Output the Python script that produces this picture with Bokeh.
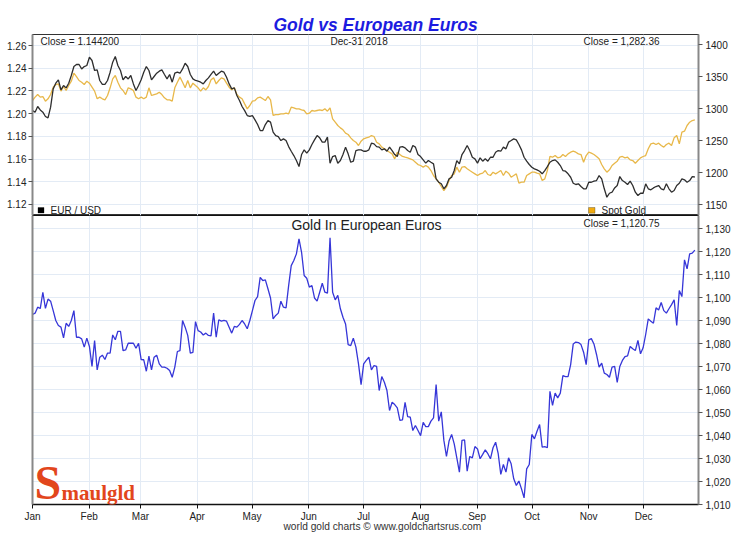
import pandas as pd
from datetime import datetime
from bokeh.plotting import figure
from bokeh.models import (ColumnDataSource, Range1d, LinearAxis, Label, BoxAnnotation, Title,
                          MonthsTicker, SingleIntervalTicker, FixedTicker, PrintfTickFormatter,
                          NumeralTickFormatter, DatetimeTickFormatter)
from bokeh.layouts import column
from bokeh.embed import file_html
from bokeh.resources import INLINE

# ---------------- data ----------------
eur_usd = [
    1.2027, 1.2013, 1.2063, 1.2033, 1.2013, 1.1975, 1.1963, 1.2057, 1.2218, 1.2268,
    1.2298, 1.2210, 1.2248, 1.2227, 1.2268, 1.2336, 1.2415, 1.2433, 1.2433, 1.2394,
    1.2415, 1.2424, 1.2497, 1.2468, 1.2380, 1.2386, 1.2292, 1.2257, 1.2257, 1.2292,
    1.2365, 1.2453, 1.2503, 1.2424, 1.2380, 1.2298, 1.2327, 1.2306, 1.2336, 1.2262,
    1.2204, 1.2248, 1.2298, 1.2365, 1.2415, 1.2380, 1.2298, 1.2327, 1.2356, 1.2374,
    1.2386, 1.2345, 1.2306, 1.2345, 1.2277, 1.2356, 1.2365, 1.2356, 1.2394, 1.2444,
    1.2415, 1.2345, 1.2306, 1.2292, 1.2286, 1.2277, 1.2262, 1.2292, 1.2315, 1.2345,
    1.2374, 1.2336, 1.2356, 1.2374, 1.2365, 1.2321, 1.2262, 1.2218, 1.2227, 1.2160,
    1.2116, 1.2063, 1.2027, 1.1983, 1.1975, 1.1983, 1.1945, 1.1904, 1.1851, 1.1851,
    1.1904, 1.1939, 1.1925, 1.1837, 1.1807, 1.1798, 1.1763, 1.1778, 1.1763, 1.1710,
    1.1669, 1.1631, 1.1587, 1.1534, 1.1640, 1.1681, 1.1652, 1.1681, 1.1728, 1.1769,
    1.1807, 1.1787, 1.1749, 1.1749, 1.1793, 1.1563, 1.1622, 1.1631, 1.1563, 1.1587,
    1.1640, 1.1705, 1.1646, 1.1572, 1.1581, 1.1675, 1.1681, 1.1681, 1.1669, 1.1669,
    1.1681, 1.1740, 1.1734, 1.1710, 1.1705, 1.1681, 1.1690, 1.1669, 1.1705, 1.1675,
    1.1640, 1.1622, 1.1705, 1.1710, 1.1699, 1.1675, 1.1660, 1.1719, 1.1705, 1.1640,
    1.1622, 1.1593, 1.1564, 1.1587, 1.1572, 1.1558, 1.1426, 1.1396, 1.1382, 1.1338,
    1.1367, 1.1426, 1.1440, 1.1499, 1.1587, 1.1558, 1.1640, 1.1675, 1.1719, 1.1675,
    1.1616, 1.1602, 1.1564, 1.1611, 1.1581, 1.1602, 1.1581, 1.1616, 1.1616, 1.1660,
    1.1675, 1.1669, 1.1705, 1.1690, 1.1749, 1.1763, 1.1778, 1.1769, 1.1728, 1.1681,
    1.1616, 1.1581, 1.1552, 1.1528, 1.1514, 1.1505, 1.1493, 1.1470, 1.1499, 1.1534,
    1.1572, 1.1587, 1.1593, 1.1572, 1.1543, 1.1499, 1.1493, 1.1470, 1.1440, 1.1387,
    1.1376, 1.1382, 1.1358, 1.1338, 1.1338, 1.1396, 1.1396, 1.1405, 1.1411, 1.1455,
    1.1426, 1.1338, 1.1264, 1.1299, 1.1308, 1.1346, 1.1367, 1.1446, 1.1411, 1.1396,
    1.1376, 1.1405, 1.1367, 1.1308, 1.1279, 1.1299, 1.1299, 1.1382, 1.1338, 1.1329,
    1.1346, 1.1358, 1.1367, 1.1338, 1.1329, 1.1382, 1.1338, 1.1308, 1.1323, 1.1367,
    1.1387, 1.1426, 1.1417, 1.1396, 1.1411, 1.1446, 1.1442,
]

spot_gold = [
    1312.8, 1318.1, 1322.2, 1318.1, 1319.1, 1311.8, 1315.5, 1322.2, 1333.7, 1337.9,
    1338.9, 1327.5, 1334.8, 1328.5, 1336.3, 1343.1, 1355.6, 1350.4, 1344.2, 1341.5,
    1337.9, 1343.1, 1340.0, 1333.7, 1327.5, 1315.5, 1318.1, 1315.5, 1313.9, 1320.7,
    1332.7, 1346.8, 1352.0, 1341.5, 1332.7, 1328.5, 1322.2, 1332.7, 1331.1, 1328.5,
    1318.1, 1315.5, 1318.1, 1315.5, 1318.1, 1332.7, 1320.7, 1322.2, 1323.3, 1325.9,
    1322.2, 1317.0, 1313.9, 1313.9, 1311.8, 1332.7, 1341.5, 1349.4, 1341.5, 1332.7,
    1344.2, 1332.7, 1340.0, 1336.3, 1332.7, 1327.5, 1332.7, 1329.5, 1334.8, 1345.2,
    1348.3, 1338.9, 1344.2, 1348.3, 1346.8, 1340.0, 1333.7, 1329.5, 1332.7, 1322.2,
    1318.1, 1315.5, 1307.6, 1299.8, 1305.0, 1311.8, 1312.8, 1317.0, 1318.1, 1315.5,
    1312.8, 1319.1, 1313.9, 1289.4, 1290.9, 1290.9, 1292.0, 1292.0, 1293.0, 1292.0,
    1302.4, 1301.4, 1299.8, 1299.8, 1298.2, 1297.2, 1292.0, 1293.0, 1297.2, 1296.1,
    1297.2, 1298.2, 1297.2, 1299.8, 1296.1, 1301.4, 1284.1, 1278.9, 1273.7, 1270.0,
    1266.9, 1261.7, 1259.6, 1254.4, 1250.2, 1247.6, 1242.4, 1249.2, 1252.8, 1254.4,
    1255.4, 1258.0, 1256.5, 1247.6, 1245.0, 1239.8, 1237.2, 1234.6, 1231.9, 1229.3,
    1221.5, 1231.9, 1228.3, 1225.2, 1224.1, 1223.1, 1221.5, 1219.9, 1216.3, 1212.6,
    1211.1, 1208.5, 1211.1, 1208.5, 1203.2, 1195.4, 1190.2, 1185.0, 1178.2, 1171.9,
    1177.1, 1187.6, 1195.4, 1198.0, 1208.5, 1200.6, 1208.5, 1209.5, 1205.9, 1203.2,
    1200.6, 1198.0, 1195.4, 1198.0, 1199.1, 1203.2, 1197.0, 1195.4, 1200.6, 1198.0,
    1200.6, 1203.2, 1195.4, 1202.2, 1199.1, 1192.8, 1195.4, 1198.0, 1183.4, 1185.0,
    1185.0, 1195.4, 1198.0, 1200.6, 1200.6, 1199.1, 1198.0, 1187.6, 1190.2, 1203.2,
    1225.2, 1224.1, 1226.7, 1223.1, 1224.1, 1228.3, 1225.2, 1229.3, 1231.9, 1233.5,
    1231.9, 1229.3, 1228.3, 1216.3, 1226.7, 1231.9, 1230.4, 1228.3, 1225.2, 1221.5,
    1212.6, 1205.9, 1200.6, 1204.3, 1211.1, 1214.7, 1217.9, 1224.1, 1225.2, 1223.1,
    1224.1, 1219.9, 1218.9, 1214.7, 1218.9, 1223.1, 1225.2, 1226.7, 1237.2, 1245.0,
    1246.0, 1244.0, 1246.0, 1242.4, 1239.8, 1244.0, 1246.0, 1242.4, 1254.4, 1258.0,
    1245.0, 1263.3, 1264.8, 1273.7, 1278.9, 1281.5, 1282.36,
]

gold_in_euros = [
    1092.7, 1093.3, 1095.9, 1095.3, 1102.4, 1095.4, 1099.4, 1098.5, 1094.4, 1090.1,
    1087.9, 1087.2, 1082.5, 1088.9, 1087.5, 1090.1, 1094.4, 1082.8, 1082.8, 1082.1,
    1078.5, 1082.4, 1078.8, 1070.1, 1081.4, 1068.6, 1074.1, 1075.0, 1073.1, 1075.9,
    1075.9, 1083.8, 1081.7, 1085.4, 1085.4, 1077.0, 1077.3, 1080.2, 1080.2, 1080.2,
    1078.0, 1080.2, 1073.1, 1073.0, 1068.0, 1074.6, 1068.6, 1074.1, 1075.0, 1071.2,
    1069.8, 1069.8, 1069.3, 1068.3, 1065.4, 1069.8, 1076.6, 1077.0, 1090.1, 1087.2,
    1083.6, 1075.9, 1076.2, 1089.6, 1085.7, 1085.1, 1083.8, 1084.6, 1083.6, 1083.4,
    1093.3, 1082.8, 1090.4, 1089.8, 1090.1, 1089.8, 1087.2, 1084.6, 1087.5, 1087.2,
    1088.4, 1090.1, 1088.6, 1086.5, 1090.1, 1094.4, 1098.8, 1100.5, 1108.9, 1107.5,
    1107.8, 1103.9, 1099.9, 1090.8, 1092.3, 1093.3, 1098.5, 1095.9, 1095.6, 1105.3,
    1114.0, 1116.2, 1119.1, 1125.6, 1119.8, 1109.7, 1108.5, 1104.6, 1105.3, 1099.9,
    1098.5, 1102.4, 1106.3, 1102.4, 1102.0, 1126.1, 1102.4, 1099.1, 1101.0, 1095.2,
    1091.5, 1088.6, 1079.6, 1079.2, 1082.4, 1078.5, 1071.2, 1062.2, 1071.2, 1072.7,
    1074.1, 1068.6, 1070.5, 1070.1, 1059.6, 1065.7, 1063.2, 1059.6, 1050.9, 1054.5,
    1053.5, 1052.1, 1046.6, 1046.8, 1054.5, 1048.3, 1048.0, 1042.2, 1044.4, 1042.2,
    1040.0, 1045.8, 1043.9, 1043.9, 1046.3, 1047.7, 1062.2, 1046.3, 1050.3, 1037.9,
    1030.9, 1037.6, 1040.5, 1036.4, 1030.3, 1024.1, 1037.9, 1038.1, 1024.5, 1030.9,
    1030.3, 1035.2, 1034.2, 1029.9, 1031.8, 1033.8, 1032.1, 1029.9, 1034.7, 1037.1,
    1032.1, 1023.1, 1027.4, 1024.1, 1030.3, 1027.7, 1021.2, 1018.3, 1020.2, 1016.8,
    1012.9, 1025.5, 1027.4, 1040.5, 1038.6, 1041.9, 1044.8, 1035.0, 1035.2, 1034.7,
    1059.3, 1053.1, 1058.5, 1056.4, 1058.5, 1066.1, 1065.7, 1065.7, 1070.9, 1079.9,
    1080.7, 1080.5, 1079.6, 1076.3, 1070.9, 1081.7, 1082.2, 1079.9, 1075.3, 1069.8,
    1071.5, 1067.2, 1066.6, 1065.4, 1069.8, 1070.1, 1063.2, 1070.1, 1072.7, 1074.4,
    1074.7, 1078.8, 1077.8, 1077.0, 1081.4, 1075.6, 1078.2, 1084.0, 1090.8, 1089.8,
    1088.9, 1095.6, 1094.7, 1097.9, 1094.4, 1093.3, 1095.2, 1097.0, 1099.1, 1087.9,
    1103.1, 1100.5, 1116.5, 1112.6, 1119.1, 1119.4, 1120.75,
]

first_sample = "2018-01-01"
last_sample = "2018-12-29"
x_start = datetime(2018, 1, 1)
x_end = datetime(2018, 12, 31)

title_text = "Gold vs European Euros"
eur_close_text = "Close = 1.144200"
gold_close_text = "Close = 1,282.36"
date_text = "Dec-31  2018"
lower_title = "Gold In European Euros"
lower_close_text = "Close = 1,120.75"
footer_text = "world gold charts \u00a9 www.goldchartsrus.com"
eur_legend = "EUR / USD"
gold_legend = "Spot Gold"

FONT = "Liberation Sans"
GRID = "#e3ebf5"
TXT = "#222222"

FRAME_W, TOP_H, BOT_H = 666, 181, 289
EUR_LO, EUR_HI = 1.1103, 1.2697
GOLD_LO, GOLD_HI = 1132.8, 1416.2
EURO_LO, EURO_HI = 1010, 1135.8

x0_ms = pd.Timestamp(x_start).value / 1e6
x1_ms = pd.Timestamp(x_end).value / 1e6


def xpx(px):
    """frame-relative pixel offset -> x data value (ms)"""
    return x0_ms + px * (x1_ms - x0_ms) / FRAME_W


def ypx_top(px):
    """pixels above upper-frame bottom -> EUR axis value"""
    return EUR_LO + px * (EUR_HI - EUR_LO) / TOP_H


def src(values):
    d = pd.date_range(first_sample, last_sample, periods=len(values))
    return ColumnDataSource(dict(date=d, v=values))


def label(fig, text, x, y, xo, yo, size, align="left", color=TXT, style="normal", font=FONT):
    lb = Label(x=x, y=y, x_offset=xo, y_offset=yo, text=text, text_align=align,
               text_baseline="middle", text_font_size=size, text_color=color,
               text_font_style=style, text_font=font)
    fig.add_layout(lb)


def style_axis(ax, size="10px"):
    ax.major_label_text_font = FONT
    ax.major_label_text_font_size = size
    ax.major_label_text_color = TXT
    ax.major_tick_in = 0
    ax.major_tick_out = 4
    ax.minor_tick_line_color = None
    ax.major_tick_line_color = "#555555"
    ax.major_label_standoff = 2


xr = Range1d(x_start, x_end)
month_ticks = MonthsTicker(months=list(range(12)))

# ---------------- upper panel ----------------
top = figure(x_axis_type="datetime", x_range=xr, y_range=Range1d(EUR_LO, EUR_HI),
             frame_width=FRAME_W, frame_height=TOP_H, width=730, height=215,
             min_border_left=32, min_border_right=32, min_border_top=34, min_border_bottom=0,
             x_axis_location=None, y_axis_location="left",
             toolbar_location=None, output_backend="svg",
             background_fill_color="white", border_fill_color="white",
             outline_line_color="#333333", outline_line_width=1)
top.extra_y_ranges = {"gold": Range1d(GOLD_LO, GOLD_HI)}

ttl = Title(text=title_text, align="left", offset=241, standoff=0,
            text_font=FONT, text_font_size="17.5px", text_font_style="bold italic",
            text_color="#1c1ce0")
top.add_layout(ttl, "above")

eur_ticker = SingleIntervalTicker(interval=0.02)
lax = top.yaxis[0]
lax.ticker = eur_ticker
lax.formatter = PrintfTickFormatter(format="%.2f")
style_axis(lax)
lax.axis_line_color = "#888888"
lax.axis_line_width = 2

rax = LinearAxis(y_range_name="gold", ticker=SingleIntervalTicker(interval=50))
style_axis(rax)
rax.major_label_standoff = 3
rax.axis_line_color = "#888888"
rax.axis_line_width = 2
top.add_layout(rax, "right")

top.xgrid.ticker = month_ticks
top.xgrid.grid_line_color = GRID
top.ygrid.ticker = eur_ticker
top.ygrid.grid_line_color = GRID

top.line(x="date", y="v", source=src(spot_gold), y_range_name="gold",
         line_color="#e8b84a", line_width=1.3)
top.line(x="date", y="v", source=src(eur_usd), line_color="#2e2e2e", line_width=1.3)

# legend swatches + texts
top.add_layout(BoxAnnotation(left=xpx(5.5), right=xpx(11.5), bottom=ypx_top(2.5), top=ypx_top(8),
                             fill_color="black", fill_alpha=1, line_color="black", line_width=1))
top.add_layout(BoxAnnotation(left=xpx(556), right=xpx(562.5), bottom=ypx_top(2.3), top=ypx_top(8),
                             fill_color="#f0aa10", fill_alpha=1, line_color="#222222", line_width=1))
label(top, eur_legend, x_start, EUR_LO, 18, 5, "10px")
label(top, gold_legend, x_start, EUR_LO, 569, 5, "10px")

label(top, eur_close_text, x_start, EUR_HI, 8, -6.5, "10px")
label(top, date_text, x_start, EUR_HI, 328, -6.5, "10px", align="center")
label(top, gold_close_text, x_end, EUR_HI, -39, -6.5, "10px", align="right")

# ---------------- lower panel ----------------
bot = figure(x_axis_type="datetime", x_range=xr, y_range=Range1d(EURO_LO, EURO_HI),
             frame_width=FRAME_W, frame_height=BOT_H, width=730, height=317,
             min_border_left=32, min_border_right=32, min_border_top=0, min_border_bottom=28,
             y_axis_location="right",
             toolbar_location=None, output_backend="svg",
             background_fill_color="white", border_fill_color="white",
             outline_line_color="#111111", outline_line_width=1)

bax = bot.yaxis[0]
bax.ticker = SingleIntervalTicker(interval=10)
bax.formatter = NumeralTickFormatter(format="0,0")
style_axis(bax)
bax.major_label_standoff = 3
bax.axis_line_color = "#888888"
bax.axis_line_width = 2

blax = LinearAxis(ticker=FixedTicker(ticks=[]), major_tick_line_color=None,
                  minor_tick_line_color=None, axis_line_color="#888888", axis_line_width=2,
                  major_label_standoff=0)
bot.add_layout(blax, "left")

xax = bot.xaxis[0]
xax.ticker = month_ticks
xax.formatter = DatetimeTickFormatter(months="%b", days="%b", years="%b")
style_axis(xax)
xax.axis_line_color = "#111111"
xax.axis_line_width = 1.5
xax.major_tick_line_color = "#111111"

foot = Title(text=footer_text, align="left", offset=251, standoff=-8, vertical_align="top",
             text_font=FONT, text_font_size="10.2px", text_font_style="normal",
             text_color="#333333")
bot.add_layout(foot, "below")

bot.xgrid.ticker = month_ticks
bot.xgrid.grid_line_color = GRID
bot.ygrid.grid_line_color = GRID

bot.line(x="date", y="v", source=src(gold_in_euros), line_color="#3636d8", line_width=1.3)

label(bot, lower_title, x_start, EURO_HI, 334, -9, "14px", align="center")
label(bot, lower_close_text, x_end, EURO_HI, -39, -7.5, "10px", align="right")

# logo
logo_s = Label(x=x_start, y=EURO_LO, x_offset=2, y_offset=-4, text="S", text_align="left",
               text_baseline="bottom", text_font_size="48px", text_font="Liberation Serif",
               text_font_style="bold", text_color="#e2461c")
bot.add_layout(logo_s)
logo_t = Label(x=x_start, y=EURO_LO, x_offset=29, y_offset=0, text="maulgld", text_align="left",
               text_baseline="bottom", text_font_size="21px", text_font="Liberation Serif",
               text_font_style="bold", text_color="#e2461c")
bot.add_layout(logo_t)

layout = column(top, bot, spacing=0)
open("out.html", "w").write(file_html(layout, INLINE))
